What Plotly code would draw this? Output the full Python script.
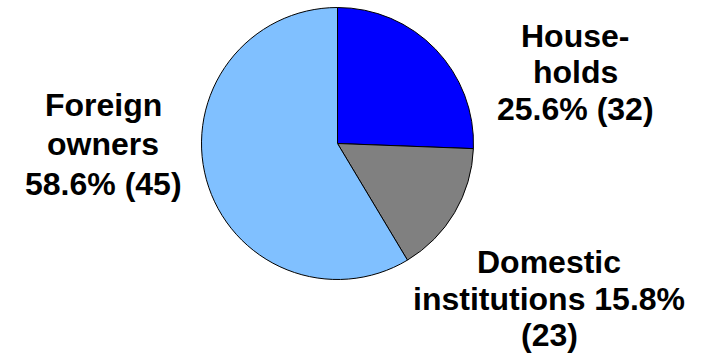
import plotly.graph_objects as go

categories = ["Households", "Domestic institutions", "Foreign owners"]
shares = [25.6, 15.8, 58.6]
counts = [32, 23, 45]
label_lines = [
    ["House-", "holds", "25.6% (32)"],
    ["Domestic", "institutions 15.8%", "(23)"],
    ["Foreign", "owners", "58.6% (45)"],
]
colors = ["#0000FF", "#808080", "#80C0FF"]

W, H = 704, 354
cx, cy, r = 337.5, 143.5, 136

fig = go.Figure(go.Pie(
    labels=categories,
    values=shares,
    customdata=counts,
    sort=False,
    direction="clockwise",
    rotation=0,
    textinfo="none",
    hoverinfo="label+percent",
    marker=dict(colors=colors, line=dict(color="black", width=1)),
    domain=dict(x=[(cx - r) / W, (cx + r) / W], y=[(H - cy - r) / H, (H - cy + r) / H]),
    showlegend=False,
))

# line-centre pixel positions for each label block
label_x = [575, 549, 103]
label_y = [[36, 72.5, 109], [262, 299, 335], [105.5, 144, 183.5]]
for lines, lx, ys in zip(label_lines, label_x, label_y):
    for line, ly in zip(lines, ys):
        fig.add_annotation(
            x=lx / W, y=1 - ly / H, xref="paper", yref="paper",
            text="<b>" + line + "</b>", showarrow=False,
            xanchor="center", yanchor="middle", align="center",
            font=dict(family="Liberation Sans, Arial, sans-serif", size=32, color="black"),
        )

fig.update_layout(
    width=W, height=H,
    margin=dict(l=0, r=0, t=0, b=0),
    paper_bgcolor="white", plot_bgcolor="white",
)
fig.write_html("out.html")
